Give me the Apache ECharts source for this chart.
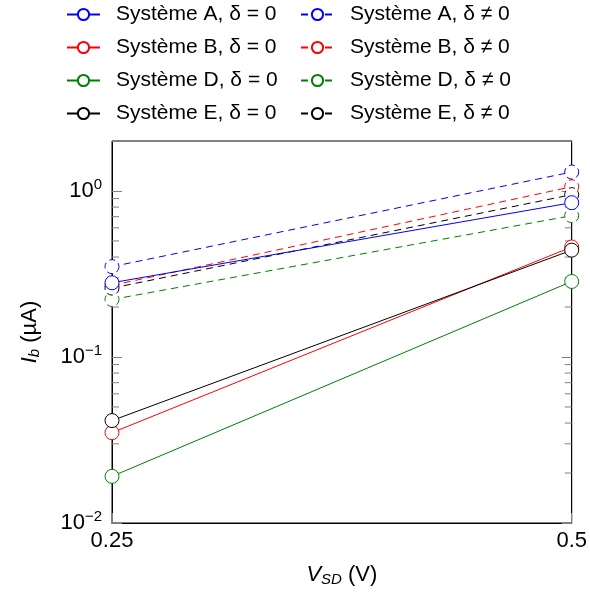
<!DOCTYPE html>
<html>
<head>
<meta charset="utf-8">
<script src="https://cdn.jsdelivr.net/npm/echarts@6/dist/echarts.min.js"></script>
<style>
  html, body { margin: 0; padding: 0; background: #fff; }
  #main { width: 590px; height: 592px; }
</style>
</head>
<body>
<div id="main"></div>
<script>
  // V_SD values (V)
  var vsd = [0.25, 0.5];
  // I_b (uA), delta = 0
  var sysA0 = [0.28, 0.85];
  var sysB0 = [0.035, 0.46];
  var sysD0 = [0.0191, 0.285];
  var sysE0 = [0.0414, 0.44];
  // I_b (uA), delta != 0
  var sysA1 = [0.35, 1.30];
  var sysB1 = [0.27, 1.06];
  var sysD1 = [0.222, 0.71];
  var sysE1 = [0.26, 0.95];

  var minorTicks = [0.02, 0.03, 0.04, 0.05, 0.06, 0.07, 0.08, 0.09,
                    0.2, 0.3, 0.4, 0.5, 0.6, 0.7, 0.8, 0.9, 2];

  var font = "'Liberation Sans', Arial, sans-serif";

  function pts(vals) {
    return vals.map(function (v, i) { return [vsd[i], v]; });
  }

  function mkSeries(name, vals, color, dashed) {
    return {
      type: 'line',
      name: name,
      data: pts(vals),
      clip: false,
      symbol: 'circle',
      symbolSize: 14,
      lineStyle: {color: color, width: 1, type: dashed ? [7, 5] : 'solid'},
      itemStyle: {color: '#fff', borderColor: color, borderWidth: 1, borderType: dashed ? [6, 4] : 'solid'},
      emphasis: {disabled: true},
      z: dashed ? 2 : 3
    };
  }

  var names0 = ['Système A, δ = 0', 'Système B, δ = 0', 'Système D, δ = 0', 'Système E, δ = 0'];
  var names1 = ['Système A, δ ≠ 0', 'Système B, δ ≠ 0', 'Système D, δ ≠ 0', 'Système E, δ ≠ 0'];

  var series = [
    mkSeries(names0[0], sysA0, '#0000ff', false),
    mkSeries(names0[1], sysB0, '#ff0000', false),
    mkSeries(names0[2], sysD0, '#008000', false),
    mkSeries(names0[3], sysE0, '#000000', false),
    mkSeries(names1[0], sysA1, '#0000ff', true),
    mkSeries(names1[1], sysB1, '#ff0000', true),
    mkSeries(names1[2], sysD1, '#008000', true),
    mkSeries(names1[3], sysE1, '#000000', true),
    {
      // minor log ticks on left and right frame
      type: 'custom',
      silent: true,
      data: minorTicks,
      renderItem: function (params, api) {
        var v = api.value(0);
        var l = api.coord([0.25, v]);
        var r = api.coord([0.5, v]);
        var st = {stroke: '#808080', lineWidth: 1};
        return {
          type: 'group',
          children: [
            {type: 'line', shape: {x1: l[0], y1: l[1], x2: l[0] + 7, y2: l[1]}, style: st},
            {type: 'line', shape: {x1: r[0], y1: r[1], x2: r[0] - 7, y2: r[1]}, style: st}
          ]
        };
      },
      encode: {y: 0},
      z: 1
    }
  ];

  var legendBase = {
    orient: 'vertical',
    top: 4,
    padding: 0,
    itemWidth: 33,
    itemHeight: 14,
    itemGap: 12,
    textStyle: {fontFamily: font, fontSize: 21, color: '#000', lineHeight: 21, padding: [0, 0, 0, 11]},
    selectedMode: false
  };

  var supRich = {
    base: {fontFamily: font, fontSize: 22, color: '#000'},
    sup: {fontFamily: font, fontSize: 15, color: '#000', padding: [0, 0, 12, 0]}
  };

  var nameRich = {
    i: {fontFamily: font, fontSize: 22, fontStyle: 'italic', color: '#000'},
    sub: {fontFamily: font, fontSize: 15, fontStyle: 'italic', color: '#000', padding: [9, 0, 0, 0]}
  };

  var chart = echarts.init(document.getElementById('main'));
  chart.setOption({
    animation: false,
    backgroundColor: '#fff',
    legend: [
      Object.assign({}, legendBase, {left: 66, data: names0}),
      Object.assign({}, legendBase, {left: 300, data: names1})
    ],
    grid: {left: 112, right: 15, top: 141, bottom: 67, show: true, borderColor: '#000', borderWidth: 1, backgroundColor: 'transparent'},
    xAxis: {
      type: 'value',
      min: 0.25,
      max: 0.5,
      interval: 0.25,
      name: '{i|V}{sub|SD} (V)',
      nameLocation: 'middle',
      nameGap: 40,
      nameTextStyle: {fontFamily: font, fontSize: 22, color: '#000', rich: nameRich},
      axisLine: {lineStyle: {color: '#000'}},
      axisTick: {inside: true, length: 10, lineStyle: {color: '#808080'}},
      axisLabel: {fontFamily: font, fontSize: 22, color: '#000', margin: 7,
        formatter: function (v) { return String(v); }},
      splitLine: {show: false}
    },
    yAxis: [{
      type: 'log',
      min: 0.01,
      max: 2,
      logBase: 10,
      name: '{i|I}{sub|b} (µA)',
      nameLocation: 'middle',
      nameRotate: 90,
      nameGap: 70,
      nameTextStyle: {fontFamily: font, fontSize: 22, color: '#000', rich: nameRich},
      axisLine: {lineStyle: {color: '#000'}},
      axisTick: {inside: true, length: 10, lineStyle: {color: '#808080'}},
      axisLabel: {
        margin: 10,
        rich: supRich,
        formatter: function (v) {
          var e = Math.round(Math.log10(v));
          if (Math.abs(Math.pow(10, e) - v) > 1e-9 * v) return '';
          var s = e < 0 ? '−' + (-e) : String(e);
          return '{base|10}{sup|' + s + '}';
        }
      },
      splitLine: {show: false}
    }, {
      type: 'log',
      min: 0.01,
      max: 2,
      logBase: 10,
      position: 'right',
      axisLine: {lineStyle: {color: '#000'}},
      axisTick: {inside: true, length: 10, lineStyle: {color: '#808080'}},
      axisLabel: {show: false},
      splitLine: {show: false}
    }],
    series: series
  });
</script>
</body>
</html>
